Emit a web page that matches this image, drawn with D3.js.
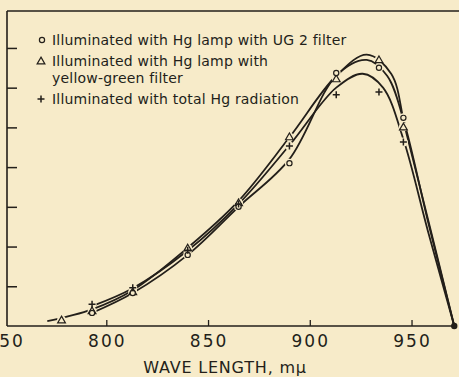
<!DOCTYPE html>
<html>
<head>
<meta charset="utf-8">
<script src="https://cdn.jsdelivr.net/npm/d3@7"></script>
<style>
    body { margin: 0; background: #f7ebc9; }
    #chart-area { width: 459px; height: 377px; }
    text { font-family: "DejaVu Sans", sans-serif; fill: #231f1a; }
</style>
</head>
<body>
<div id="chart-area"></div>
<script>

let waveUG2 = [793, 813, 840, 865, 890, 913, 934, 946]
let valuesUG2 = [0.33, 0.83, 1.79, 3.0, 4.1, 6.37, 6.5, 5.24]

let waveYG = [778, 793, 813, 840, 865, 890, 913, 934, 946]
let valuesYG = [0.15, 0.38, 0.86, 1.96, 3.1, 4.76, 6.22, 6.70, 5.01]

let waveTotal = [793, 813, 840, 865, 890, 913, 934, 946]
let valuesTotal = [0.55, 0.96, 1.91, 3.07, 4.53, 5.82, 5.89, 4.63]

// the hand-drawn smooth curves (they do not hit every point)
let curveWaveUG2 = [793, 813, 840, 865, 890, 913, 928, 938, 946, 958, 971]
let curveValUG2 = [0.33, 0.83, 1.79, 3.0, 4.2, 6.3, 6.7, 6.3, 5.2, 2.65, 0]

let curveWaveYG = [771, 793, 813, 840, 865, 890, 913, 928, 940, 947, 959, 971]
let curveValYG = [0.12, 0.42, 0.9, 1.97, 3.15, 4.75, 6.3, 6.83, 6.35, 4.95, 2.5, 0]

let curveWaveTotal = [793, 813, 840, 865, 890, 913, 926, 936, 946, 958, 971]
let curveValTotal = [0.5, 0.95, 1.9, 3.07, 4.55, 6.0, 6.35, 6.0, 4.7, 2.4, 0]

let endWave = 971
let endValue = 0

let xTicks = [750, 800, 850, 900, 950]
let yTicks = [1, 2, 3, 4, 5, 6, 7]

let legendLabels = [
    ["Illuminated with Hg lamp with UG 2 filter"],
    ["Illuminated with Hg lamp with", "yellow-green filter"],
    ["Illuminated with total Hg radiation"]
]

let bg = "#f7ebc9"
let ink = "#231f1a"

let margin = {top: 11, right: 3, bottom: 51, left: 7}
let width = 459 - margin.left - margin.right
let height = 377 - margin.top - margin.bottom

let svg = d3.select("#chart-area").append("svg")
    .attr("width", 459)
    .attr("height", 377)
    .append("g")
    .attr("transform", `translate(${margin.left}, ${margin.top})`)

// scales
let x = d3.scaleLinear()
    .domain([751.2, 975])
    .range([0, 455.4])

let y = d3.scaleLinear()
    .domain([0, 7.93])
    .range([height, 0])

// frame: top line and left axis line
svg.append("line")
    .attr("x1", 0).attr("x2", 459 - margin.left)
    .attr("y1", 0).attr("y2", 0)
    .attr("stroke", ink).attr("stroke-width", 1.5)

svg.append("line")
    .attr("x1", 0).attr("x2", 0)
    .attr("y1", 0).attr("y2", height)
    .attr("stroke", ink).attr("stroke-width", 1.6)

// x axis with inward ticks
let xAxis = d3.axisTop(x)
    .tickValues(xTicks.filter(d => d > 760))
    .tickSize(6)
    .tickFormat("")

let xg = svg.append("g")
    .attr("transform", `translate(0, ${height})`)
    .call(xAxis)
xg.select(".domain").remove()
xg.selectAll("line").attr("stroke", ink).attr("stroke-width", 1.3)

svg.append("line")
    .attr("x1", 0).attr("x2", x(endWave))
    .attr("y1", height).attr("y2", height)
    .attr("stroke", ink).attr("stroke-width", 1.6)

svg.append("g")
    .selectAll("text")
    .data(xTicks)
    .enter().append("text")
    .attr("x", d => x(d) + 1)
    .attr("y", height + 21)
    .attr("text-anchor", "middle")
    .style("font-size", "17px")
    .style("letter-spacing", "2px")
    .text(d => d)

svg.append("text")
    .attr("x", 225 - margin.left)
    .attr("y", height + 47)
    .attr("text-anchor", "middle")
    .style("font-size", "16px")
    .style("letter-spacing", "0.8px")
    .text("WAVE LENGTH, m\u03bc")

// y axis ticks pointing inward, no labels
let yAxis = d3.axisRight(y)
    .tickValues(yTicks)
    .tickSize(10)
    .tickFormat("")

let yg = svg.append("g").call(yAxis)
yg.select(".domain").remove()
yg.selectAll("line").attr("stroke", ink).attr("stroke-width", 1.5)

// curves
let line = d3.line()
    .curve(d3.curveCatmullRom.alpha(0.5))
    .x(d => x(d[0]))
    .y(d => y(d[1]))

let curves = [
    d3.zip(curveWaveUG2, curveValUG2),
    d3.zip(curveWaveYG, curveValYG),
    d3.zip(curveWaveTotal, curveValTotal)
]

svg.selectAll(".curve")
    .data(curves)
    .enter().append("path")
    .attr("class", "curve")
    .attr("d", d => line(d))
    .attr("fill", "none")
    .attr("stroke", ink)
    .attr("stroke-width", 1.8)

// markers, with a small background halo so the curve breaks around them
let circlePts = d3.zip(waveUG2, valuesUG2)
let triPts = d3.zip(waveYG, valuesYG)
let plusPts = d3.zip(waveTotal, valuesTotal)

let halo = svg.append("g")
halo.selectAll("circle")
    .data(circlePts.concat(triPts, plusPts))
    .enter().append("circle")
    .attr("cx", d => x(d[0]))
    .attr("cy", d => y(d[1]))
    .attr("r", 4.5)
    .attr("fill", bg)

let triangle = d3.symbol().type(d3.symbolTriangle).size(26)

function drawCircle(g, px, py) {
    g.append("circle")
        .attr("cx", px).attr("cy", py).attr("r", 2.6)
        .attr("fill", bg).attr("stroke", ink).attr("stroke-width", 1.2)
}
function drawTriangle(g, px, py) {
    g.append("path")
        .attr("d", triangle())
        .attr("transform", `translate(${px}, ${py + 0.6})`)
        .attr("fill", bg).attr("stroke", ink).attr("stroke-width", 1.2)
}
function drawPlus(g, px, py) {
    g.append("path")
        .attr("d", `M${px - 3.5},${py}H${px + 3.5}M${px},${py - 3.5}V${py + 3.5}`)
        .attr("stroke", ink).attr("stroke-width", 1.5)
}

let marks = svg.append("g")
triPts.forEach(d => drawTriangle(marks, x(d[0]), y(d[1])))
circlePts.forEach(d => drawCircle(marks, x(d[0]), y(d[1])))
plusPts.forEach(d => drawPlus(marks, x(d[0]), y(d[1])))

// end dot
svg.append("circle")
    .attr("cx", x(endWave))
    .attr("cy", y(endValue))
    .attr("r", 3.2)
    .attr("fill", ink)

// legend
let legend = svg.append("g")
    .attr("transform", `translate(${-margin.left}, ${-margin.top})`)

drawCircle(legend, 42, 40)
drawTriangle(legend, 41, 61)
drawPlus(legend, 41, 99)

let legendRows = [
    {y: 45, text: legendLabels[0][0]},
    {y: 66, text: legendLabels[1][0]},
    {y: 83, text: legendLabels[1][1]},
    {y: 104, text: legendLabels[2][0]}
]
legend.selectAll("text")
    .data(legendRows)
    .enter().append("text")
    .attr("x", 52)
    .attr("y", d => d.y)
    .style("font-size", "14px")
    .style("letter-spacing", "0.2px")
    .text(d => d.text)

</script>
</body>
</html>
